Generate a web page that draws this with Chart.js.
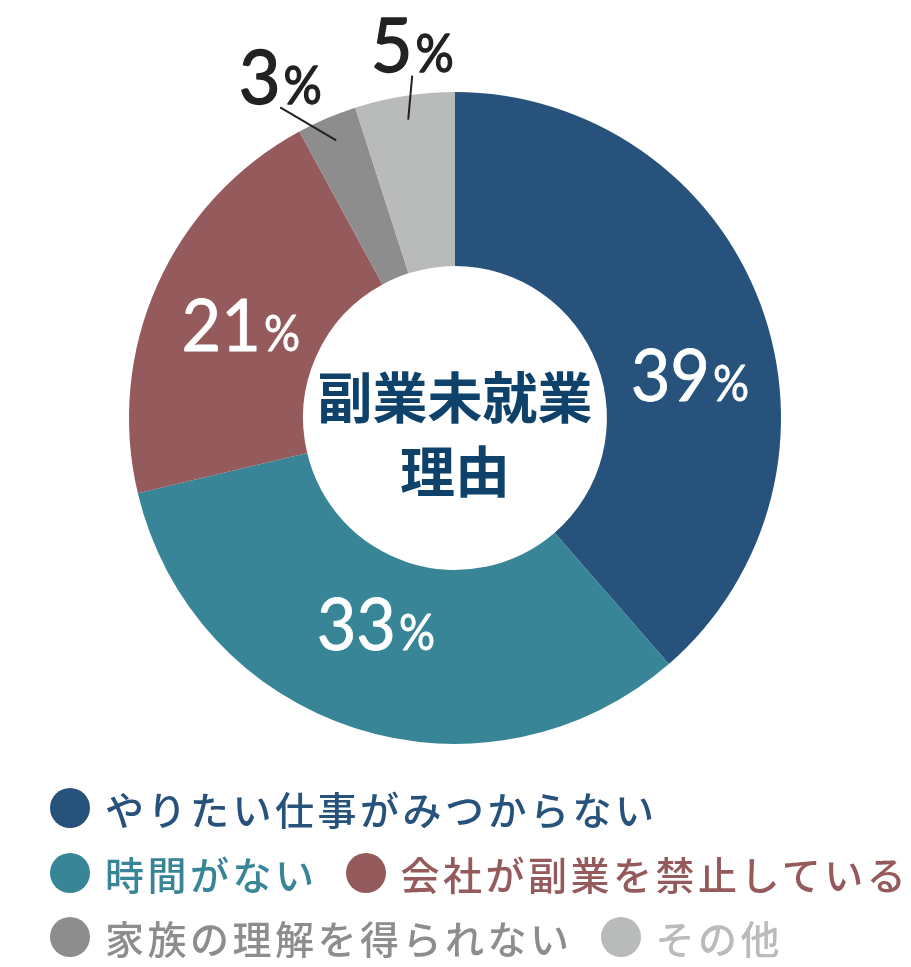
<!DOCTYPE html>
<html lang="ja">
<head>
<meta charset="utf-8">
<title>副業未就業理由</title>
<script src="https://cdn.jsdelivr.net/npm/chart.js@4.4.1/dist/chart.umd.min.js"></script>
<style>
  html, body { margin: 0; padding: 0; background: #fff; }
  #wrap { position: relative; width: 911px; height: 967px; overflow: hidden; }
  #chart { position: absolute; left: 0; top: 0; }
  .legend-row {
    position: absolute; left: 50px; height: 64px;
    display: flex; align-items: center; white-space: nowrap;
    font-family: "Noto Sans CJK JP", "Noto Sans", sans-serif;
    font-size: 39px; font-weight: 500; letter-spacing: 3.5px;
  }
  .legend-item { display: flex; align-items: center; margin-right: 28px; }
  .legend-dot { width: 40px; height: 40px; border-radius: 50%; margin-right: 15px; flex: none; }
</style>
</head>
<body>
<div id="wrap">
  <canvas id="chart" width="911" height="967"></canvas>
  <div id="legend"></div>
</div>
<script>
const reasons = ['やりたい仕事がみつからない', '時間がない', '会社が副業を禁止している', '家族の理解を得られない', 'その他'];
const shares = [39, 33, 21, 3, 5];
const sliceColors = ['#27527c', '#388597', '#955b5c', '#8d8d8d', '#b9baba'];
const legendTextColors = ['#27527c', '#388597', '#955b5c', '#8d8d8d', '#bbbbbb'];
const centerTitle = ['副業未就業', '理由'];

// legend rows as in the original layout
const legendRows = [[0], [1, 2], [3, 4]];
const legendRowCenters = [808, 873, 937];

const legendEl = document.getElementById('legend');
legendRows.forEach((row, r) => {
  const rowEl = document.createElement('div');
  rowEl.className = 'legend-row';
  rowEl.style.top = (legendRowCenters[r] - 32) + 'px';
  row.forEach(i => {
    const item = document.createElement('div');
    item.className = 'legend-item';
    const dot = document.createElement('span');
    dot.className = 'legend-dot';
    dot.style.background = sliceColors[i];
    const txt = document.createElement('span');
    txt.textContent = reasons[i];
    txt.style.color = legendTextColors[i];
    item.appendChild(dot);
    item.appendChild(txt);
    rowEl.appendChild(item);
  });
  legendEl.appendChild(rowEl);
});

// nudges for the value labels (style only)
const innerNudge = [[11, 41], [-6, -21], [4, 4]];
const outerLine = { 3: [-56, -33], 4: [4, -44] };
const outerLabelGap = 31;

function drawPercent(ctx, value, cx, cy, color, numSize, boldStroke) {
  const pctSize = Math.round(numSize * 0.7);
  const squeeze = 0.95;
  const num = String(value);
  const family = 'px Lato, "Open Sans", sans-serif';
  ctx.save();
  ctx.fillStyle = color;
  ctx.strokeStyle = color;
  ctx.lineWidth = boldStroke;
  ctx.lineJoin = 'round';
  ctx.textBaseline = 'alphabetic';
  ctx.textAlign = 'left';
  ctx.font = '400 ' + numSize + family;
  const numW = ctx.measureText(num).width * squeeze;
  ctx.font = '400 ' + pctSize + family;
  const pctW = ctx.measureText('%').width * 0.9;
  const total = numW + 3 + pctW;
  const left = cx - total / 2;
  const base = cy + numSize * 0.72 / 2;
  ctx.save();
  ctx.translate(left, base);
  ctx.scale(squeeze, 1);
  ctx.font = '400 ' + numSize + family;
  ctx.fillText(num, 0, 0);
  if (boldStroke) ctx.strokeText(num, 0, 0);
  ctx.restore();
  ctx.save();
  ctx.translate(left + numW + 3, base);
  ctx.scale(0.9, 1);
  ctx.font = '400 ' + pctSize + family;
  ctx.fillText('%', 0, 0);
  if (boldStroke) ctx.strokeText('%', 0, 0);
  ctx.restore();
  ctx.restore();
}

const valueLabels = {
  id: 'valueLabels',
  afterDatasetsDraw(chart) {
    const ctx = chart.ctx;
    const meta = chart.getDatasetMeta(0);
    meta.data.forEach((arc, i) => {
      const p = arc.getProps(['x', 'y', 'startAngle', 'endAngle', 'innerRadius', 'outerRadius'], true);
      const mid = (p.startAngle + p.endAngle) / 2;
      const value = chart.data.datasets[0].data[i];
      if (i < 3) {
        const r = (p.innerRadius + p.outerRadius) / 2;
        const n = innerNudge[i];
        drawPercent(ctx, value, p.x + Math.cos(mid) * r + n[0], p.y + Math.sin(mid) * r + n[1], '#ffffff', 72, 0.8);
      } else {
        const r = p.outerRadius - 24;
        const sx = p.x + Math.cos(mid) * r;
        const sy = p.y + Math.sin(mid) * r;
        const d = outerLine[i];
        const ex = sx + d[0];
        const ey = sy + d[1];
        ctx.save();
        ctx.strokeStyle = '#222222';
        ctx.lineWidth = 2;
        ctx.beginPath();
        ctx.moveTo(sx, sy);
        ctx.lineTo(ex, ey);
        ctx.stroke();
        ctx.restore();
        drawPercent(ctx, value, ex, ey - outerLabelGap, '#222222', 76, 1.4);
      }
    });
  }
};

const centerText = {
  id: 'centerText',
  afterDatasetsDraw(chart) {
    const ctx = chart.ctx;
    const arc = chart.getDatasetMeta(0).data[0];
    ctx.save();
    ctx.fillStyle = '#0f426a';
    ctx.font = '700 55px "Noto Sans CJK JP", sans-serif';
    ctx.textAlign = 'center';
    ctx.textBaseline = 'middle';
    ctx.fillText(centerTitle[0], arc.x, arc.y - 21);
    ctx.fillText(centerTitle[1], arc.x, arc.y + 53);
    ctx.restore();
  }
};

document.addEventListener('DOMContentLoaded', () => {
  const ctx = document.getElementById('chart');
  new Chart(ctx, {
    type: 'doughnut',
    data: {
      labels: reasons,
      datasets: [
        {
          data: shares,
          backgroundColor: sliceColors,
          borderWidth: 0,
          hoverOffset: 0,
          offset: 0
        }
      ]
    },
    options: {
      responsive: false,
      animation: false,
      cutout: '46.6%',
      layout: {
        padding: { left: 129, right: 130, top: 92, bottom: 223 }
      },
      plugins: {
        legend: { display: false },
        tooltip: { enabled: false }
      }
    },
    plugins: [valueLabels, centerText]
  });
});
</script>
</body>
</html>
